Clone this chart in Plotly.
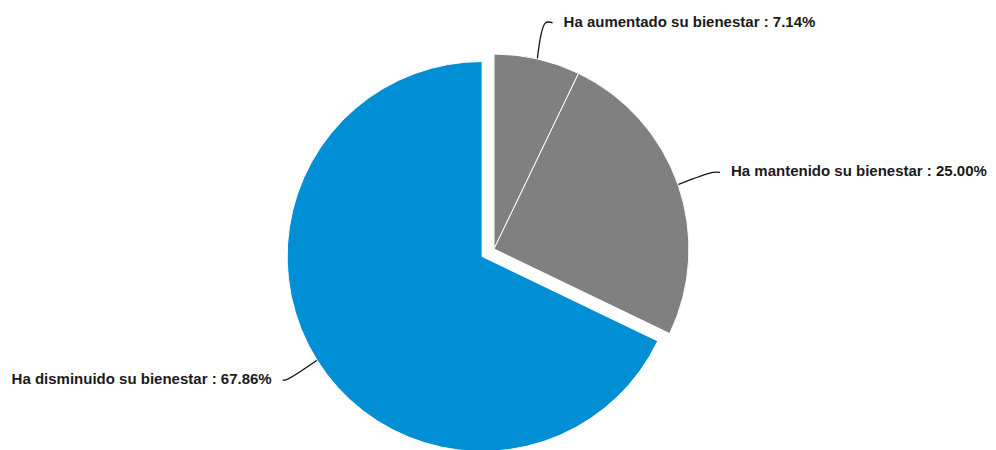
import numpy as np
import plotly.graph_objs as go

#%% data
labels = ['Ha aumentado su bienestar', 'Ha mantenido su bienestar', 'Ha disminuido su bienestar']
values = [7.14, 25.00, 67.86]
colors = ['#808080', '#808080', '#008fd5']
pulls = [0, 0, 0.072]

#%% canvas / pie geometry (pixels, margins 0 so axes == pixels)
W, H = 996, 450
dom_x = [0, 0.9759]
dom_y = [0, 418/450.]

box_w = W*(dom_x[1]-dom_x[0])
box_h = H*(dom_y[1]-dom_y[0])
cx = W*(dom_x[0]+dom_x[1])/2
cy = H*(1-dom_y[0]) - box_h/2
r = min(box_w, box_h)/2/(1+max(pulls))

fig = go.Figure()
fig.add_trace(go.Pie(labels=labels, values=values, sort=False, direction='clockwise',
                     rotation=0, pull=pulls, textinfo='none', hoverinfo='skip',
                     marker=dict(colors=colors, line=dict(color='white', width=1)),
                     domain=dict(x=dom_x, y=dom_y), showlegend=False))

#%% leader lines and labels, computed from the slice angles
frac = np.array(values)/np.sum(values)
mids = np.cumsum(frac) - frac/2
for lab, v, f, p in zip(labels, values, mids, pulls):
    th = 2*np.pi*f
    ux, uy = np.sin(th), -np.cos(th)
    ox, oy = cx + p*r*ux, cy + p*r*uy
    side = 1 if ux >= 0 else -1
    tail = 7 if side > 0 else 3
    x0, y0 = ox + r*ux, oy + r*uy
    x1, y1 = ox + 1.19*r*ux, oy + 1.19*r*uy
    x2, y2 = x1 + tail*side, y1
    fig.add_trace(go.Scatter(x=[x0, x1, x2], y=[y0, y1, y2], mode='lines',
                             line=dict(color='#111111', width=1.3, shape='spline'),
                             hoverinfo='skip', showlegend=False))
    fig.add_trace(go.Scatter(x=[x2 + 11*side], y=[y2], mode='text',
                             text=['<b>{} : {:.2f}%</b>'.format(lab, v)],
                             textposition='middle right' if side > 0 else 'middle left',
                             textfont=dict(family='Liberation Sans, Arial', size=15, color='#1a1a1a'),
                             hoverinfo='skip', showlegend=False))

fig.update_xaxes(range=[0, W], visible=False, fixedrange=True)
fig.update_yaxes(range=[H, 0], visible=False, fixedrange=True)
fig.update_layout(width=W, height=H, margin=dict(l=0, r=0, t=0, b=0),
                  paper_bgcolor='white', plot_bgcolor='white', hovermode=False)

fig.write_html("out.html")
